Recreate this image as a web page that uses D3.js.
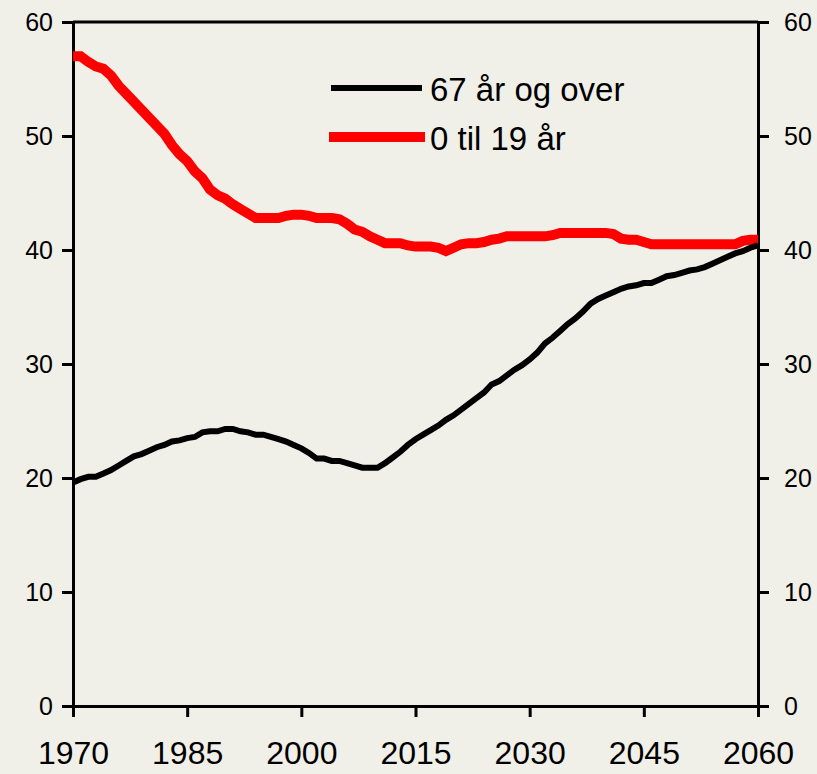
<!DOCTYPE html>
<html>
<head>
<meta charset="utf-8">
<script src="https://cdn.jsdelivr.net/npm/d3@7"></script>
<style>
  body { margin: 0; background: #F0EFE8; }
  svg { display: block; font-family: "Liberation Sans", Arial, sans-serif; }
</style>
</head>
<body>
<script>
// years 1970-2060, one value per year
const years = d3.range(1970, 2061)

// share 67 år og over (black)
const old67 = [
  19.6, 19.9, 20.1, 20.1, 20.4, 20.7, 21.1, 21.5, 21.9, 22.1,
  22.4, 22.7, 22.9, 23.2, 23.3, 23.5, 23.6, 24.0, 24.1, 24.1,
  24.3, 24.3, 24.1, 24.0, 23.8, 23.8, 23.6, 23.4, 23.2, 22.9,
  22.6, 22.2, 21.7, 21.7, 21.5, 21.5, 21.3, 21.1, 20.9, 20.9,
  20.9, 21.3, 21.8, 22.3, 22.9, 23.4, 23.8, 24.2, 24.6, 25.1,
  25.5, 26.0, 26.5, 27.0, 27.5, 28.2, 28.5, 29.0, 29.5, 29.9,
  30.4, 31.0, 31.8, 32.3, 32.9, 33.5, 34.0, 34.6, 35.3, 35.7,
  36.0, 36.3, 36.6, 36.8, 36.9, 37.1, 37.1, 37.4, 37.7, 37.8,
  38.0, 38.2, 38.3, 38.5, 38.8, 39.1, 39.4, 39.7, 39.9, 40.2,
  40.4
]

// share 0 til 19 år (red)
const young019 = [
  57.0, 57.0, 56.5, 56.1, 55.9, 55.3, 54.4, 53.7, 53.0, 52.3,
  51.6, 50.9, 50.2, 49.2, 48.4, 47.8, 46.9, 46.3, 45.3, 44.8,
  44.5, 44.0, 43.6, 43.2, 42.8, 42.8, 42.8, 42.8, 43.0, 43.1,
  43.1, 43.0, 42.8, 42.8, 42.8, 42.7, 42.3, 41.8, 41.6, 41.2,
  40.9, 40.6, 40.6, 40.6, 40.4, 40.3, 40.3, 40.3, 40.2, 39.9,
  40.2, 40.5, 40.6, 40.6, 40.7, 40.9, 41.0, 41.2, 41.2, 41.2,
  41.2, 41.2, 41.2, 41.3, 41.5, 41.5, 41.5, 41.5, 41.5, 41.5,
  41.5, 41.4, 41.0, 40.9, 40.9, 40.7, 40.5, 40.5, 40.5, 40.5,
  40.5, 40.5, 40.5, 40.5, 40.5, 40.5, 40.5, 40.5, 40.8, 40.9,
  40.9
]

const xTicks = [1970, 1985, 2000, 2015, 2030, 2045, 2060]
const yTicks = [0, 10, 20, 30, 40, 50, 60]
const seriesNames = ["67 år og over", "0 til 19 år"]

const svgWidth = 817
const svgHeight = 774
const padLeft = 73, padRight = 758, padTop = 22, padBottom = 706

const svg = d3.select("body").append("svg")
    .attr("width", svgWidth)
    .attr("height", svgHeight)
    .style("background", "#F0EFE8")

const x = d3.scaleLinear().domain([1970, 2060]).range([padLeft, padRight])
const y = d3.scaleLinear().domain([0, 60]).range([padBottom, padTop])

// frame top line
svg.append("line")
    .attr("x1", padLeft).attr("x2", padRight)
    .attr("y1", padTop).attr("y2", padTop)
    .attr("stroke", "black").attr("stroke-width", 3)

// axes
function styleAxis(g, size) {
    g.select(".domain").attr("stroke", "black").attr("stroke-width", 3)
    g.selectAll(".tick line").attr("stroke", "black").attr("stroke-width", 3)
    g.selectAll(".tick text").attr("fill", "black").style("font-size", size)
}

const yLeft = svg.append("g")
    .attr("transform", `translate(${padLeft},0)`)
    .call(d3.axisLeft(y).tickValues(yTicks).tickSize(11).tickSizeOuter(0).tickPadding(9))
styleAxis(yLeft, "25px")

const yRight = svg.append("g")
    .attr("transform", `translate(${padRight},0)`)
    .call(d3.axisRight(y).tickValues(yTicks).tickSize(11).tickSizeOuter(0).tickPadding(15))
styleAxis(yRight, "25px")

const xAxis = svg.append("g")
    .attr("transform", `translate(0,${padBottom})`)
    .call(d3.axisBottom(x).tickValues(xTicks).tickFormat(d3.format("d")).tickSize(11).tickSizeOuter(0).tickPadding(24))
styleAxis(xAxis, "32px")

// lines
const line = d3.line()
    .x((d, i) => x(years[i]))
    .y(d => y(d))

svg.append("path")
    .datum(young019)
    .attr("fill", "none")
    .attr("stroke", "#FF0000")
    .attr("stroke-width", 10)
    .attr("d", line)

svg.append("path")
    .datum(old67)
    .attr("fill", "none")
    .attr("stroke", "black")
    .attr("stroke-width", 6)
    .attr("d", line)

// legend
const legendItems = [
    {name: seriesNames[0], color: "black", w: 6, y: 88, x1: 331, x2: 422},
    {name: seriesNames[1], color: "#FF0000", w: 10, y: 137, x1: 329, x2: 425}
]

const legend = svg.append("g")
legend.selectAll("line")
    .data(legendItems)
    .enter()
    .append("line")
    .attr("x1", d => d.x1).attr("x2", d => d.x2)
    .attr("y1", d => d.y).attr("y2", d => d.y)
    .attr("stroke", d => d.color)
    .attr("stroke-width", d => d.w)

legend.selectAll("text")
    .data(legendItems)
    .enter()
    .append("text")
    .attr("x", 430)
    .attr("y", d => d.y + 13)
    .attr("fill", "black")
    .style("font-size", "33px")
    .text(d => d.name)
</script>
</body>
</html>
